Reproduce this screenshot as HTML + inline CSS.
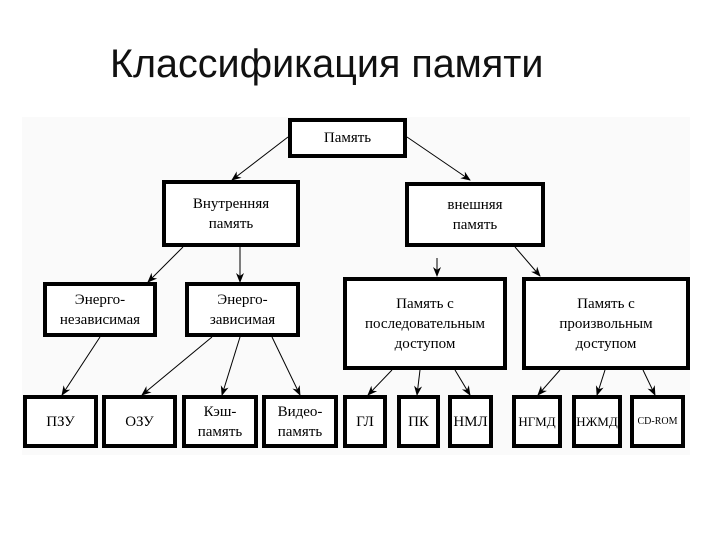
<!DOCTYPE html>
<html><head><meta charset="utf-8"><style>
body{margin:0;width:720px;height:540px;background:#fff;position:relative;overflow:hidden;font-family:"Liberation Serif",serif}
.t{position:absolute;left:110px;top:42px;font:39.5px "Liberation Sans",sans-serif;color:#111;white-space:nowrap}
.bg{position:absolute;left:22px;top:117px;width:668px;height:338px;background:#fafafa}
.b{position:absolute;box-sizing:border-box;border:4px solid #000;background:#fff;display:flex;align-items:center;justify-content:center;text-align:center;font-size:15px;line-height:20px;color:#000}
svg{position:absolute;left:0;top:0}
</style></head><body>
<div class="t">Классификация памяти</div>
<div class="bg"></div>
<svg width="720" height="540">
<defs><marker id="a" markerWidth="10" markerHeight="10" refX="9" refY="5" orient="auto" markerUnits="userSpaceOnUse"><path d="M0,1 L10,5 L0,9 L3,5z" fill="#000"/></marker></defs>
<g stroke="#000" stroke-width="1" marker-end="url(#a)">
<line x1="288" y1="137" x2="232" y2="180"/>
<line x1="407" y1="137" x2="470" y2="180"/>
<line x1="183" y1="247" x2="148" y2="282"/>
<line x1="240" y1="247" x2="240" y2="282"/>
<line x1="437" y1="258" x2="437" y2="276"/>
<line x1="515" y1="247" x2="540" y2="276"/>
<line x1="100" y1="337" x2="62" y2="395"/>
<line x1="212" y1="337" x2="142" y2="395"/>
<line x1="240" y1="337" x2="222" y2="395"/>
<line x1="272" y1="337" x2="300" y2="395"/>
<line x1="392" y1="370" x2="368" y2="395"/>
<line x1="420" y1="370" x2="417" y2="395"/>
<line x1="455" y1="370" x2="470" y2="395"/>
<line x1="560" y1="370" x2="538" y2="395"/>
<line x1="605" y1="370" x2="597" y2="395"/>
<line x1="643" y1="370" x2="655" y2="395"/>
</g></svg>
<div class="b" style="left:288px;top:118px;width:119px;height:40px">Память</div>
<div class="b" style="left:162px;top:180px;width:138px;height:67px">Внутренняя<br>память</div>
<div class="b" style="left:405px;top:182px;width:140px;height:65px">внешняя<br>память</div>
<div class="b" style="left:43px;top:282px;width:114px;height:55px">Энерго-<br>независимая</div>
<div class="b" style="left:185px;top:282px;width:115px;height:55px">Энерго-<br>зависимая</div>
<div class="b" style="left:343px;top:277px;width:164px;height:93px">Память с<br>последовательным<br>доступом</div>
<div class="b" style="left:522px;top:277px;width:168px;height:93px">Память с<br>произвольным<br>доступом</div>
<div class="b" style="left:23px;top:395px;width:75px;height:53px">ПЗУ</div>
<div class="b" style="left:102px;top:395px;width:75px;height:53px">ОЗУ</div>
<div class="b" style="left:182px;top:395px;width:76px;height:53px">Кэш-<br>память</div>
<div class="b" style="left:262px;top:395px;width:76px;height:53px">Видео-<br>память</div>
<div class="b" style="left:343px;top:395px;width:44px;height:53px">ГЛ</div>
<div class="b" style="left:397px;top:395px;width:43px;height:53px">ПК</div>
<div class="b" style="left:448px;top:395px;width:45px;height:53px">НМЛ</div>
<div class="b" style="left:512px;top:395px;width:50px;height:53px;font-size:13px">НГМД</div>
<div class="b" style="left:572px;top:395px;width:50px;height:53px;font-size:13px">НЖМД</div>
<div class="b" style="left:630px;top:395px;width:55px;height:53px;font-size:10px">CD-ROM</div>
</body></html>
